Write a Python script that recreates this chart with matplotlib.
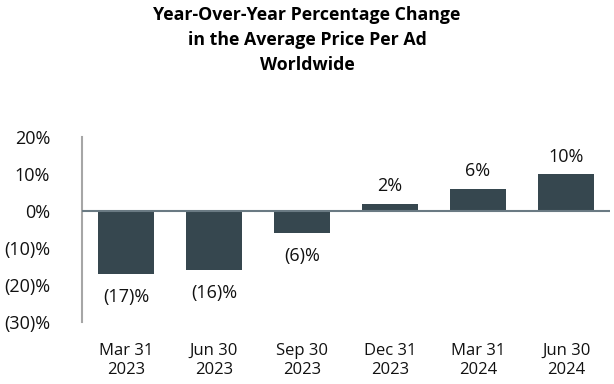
import matplotlib

matplotlib.use("Agg")
import matplotlib.pyplot as plt
from matplotlib.ticker import FuncFormatter

plt.rcParams["font.family"] = ["Open Sans", "DejaVu Sans"]

quarters = ["Mar 31\n2023", "Jun 30\n2023", "Sep 30\n2023",
            "Dec 31\n2023", "Mar 31\n2024", "Jun 30\n2024"]
yoy_change = [-17, -16, -6, 2, 6, 10]
y_ticks = [-30, -20, -10, 0, 10, 20]

BAR_COLOR = "#36474f"


def pct_fmt(v, _pos=None):
    v = int(round(v))
    return f"({abs(v)})%" if v < 0 else f"{v}%"


fig = plt.figure(figsize=(6.14, 3.84), dpi=100)
ax = fig.add_axes([0.1336, 0.1615, 0.86, 0.4817])

x = range(len(quarters))
ax.bar(x, yoy_change, width=0.636, color=BAR_COLOR, zorder=2)

for xi, v in zip(x, yoy_change):
    if v >= 0:
        ax.annotate(pct_fmt(v), (xi, v), xytext=(0, 6), textcoords="offset points",
                    ha="center", va="bottom", fontsize=13, color="#111111")
    else:
        ax.annotate(pct_fmt(v), (xi, v), xytext=(0, -10), textcoords="offset points",
                    ha="center", va="top", fontsize=13, color="#111111")

ax.axhline(0, color="#6a7a83", linewidth=1.5, zorder=3)

ax.set_xlim(-0.5, len(quarters) - 0.5)
ax.set_ylim(-30, 20)
ax.set_yticks(y_ticks)
ax.yaxis.set_major_formatter(FuncFormatter(pct_fmt))
ax.set_xticks(list(x))
ax.set_xticklabels(quarters, fontsize=12, linespacing=1.25)
ax.tick_params(axis="y", length=0, pad=23, labelsize=13, labelcolor="#111111")
ax.tick_params(axis="x", length=0, pad=15, labelcolor="#111111")

for side in ["top", "right", "bottom"]:
    ax.spines[side].set_visible(False)
ax.spines["left"].set_color("#a6a6a6")
ax.spines["left"].set_linewidth(1.5)

fig.text(0.5, 0.985,
         "Year-Over-Year Percentage Change\nin the Average Price Per Ad\nWorldwide",
         ha="center", va="top", fontsize=12.8, fontweight="bold", linespacing=1.5)

fig.savefig("out.png", dpi=100)
